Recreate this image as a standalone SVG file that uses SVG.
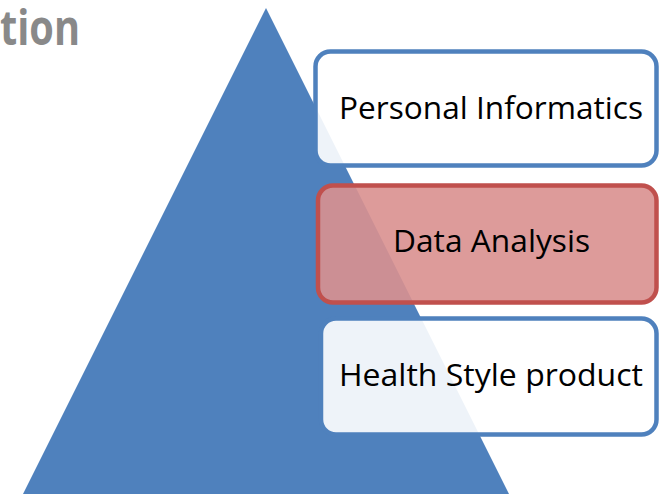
<svg xmlns="http://www.w3.org/2000/svg" width="659" height="494" viewBox="0 0 659 494">
<style>
.lbl{font-family:"Open Sans","Noto Sans","Liberation Sans",sans-serif;font-size:31px;fill:#000;text-anchor:middle}
.blue{fill:#fff;fill-opacity:0.9;stroke:#4F81BD;stroke-width:4.5}
.red{fill:#D9908F;fill-opacity:0.9;stroke:#C0504D;stroke-width:4.5}
</style>
<rect width="659" height="494" fill="#fff"/>
<text x="0" y="45" font-family="'Open Sans','Noto Sans','Liberation Sans',sans-serif" font-weight="bold" font-size="48" fill="#898989" textLength="80" lengthAdjust="spacingAndGlyphs">tion</text>
<g id="pyramid">
<polygon points="266,8 509,494 23,494" fill="#4F81BD"/>
</g>
<g id="connectors"></g>
<g id="personal-informatics">
<rect class="blue" x="315.5" y="51.5" width="341" height="114" rx="15"/>
<text class="lbl" x="491" y="119" textLength="304" lengthAdjust="spacingAndGlyphs">Personal Informatics</text>
</g>
<g id="data-analysis">
<rect class="red" x="318" y="185.5" width="338.5" height="117" rx="15"/>
<text class="lbl" x="491.5" y="252" textLength="197" lengthAdjust="spacingAndGlyphs">Data Analysis</text>
</g>
<g id="health-style-product">
<rect class="blue" x="321" y="318.5" width="335.5" height="116" rx="15"/>
<text class="lbl" x="491" y="386" textLength="304" lengthAdjust="spacingAndGlyphs">Health Style product</text>
</g>
</svg>
